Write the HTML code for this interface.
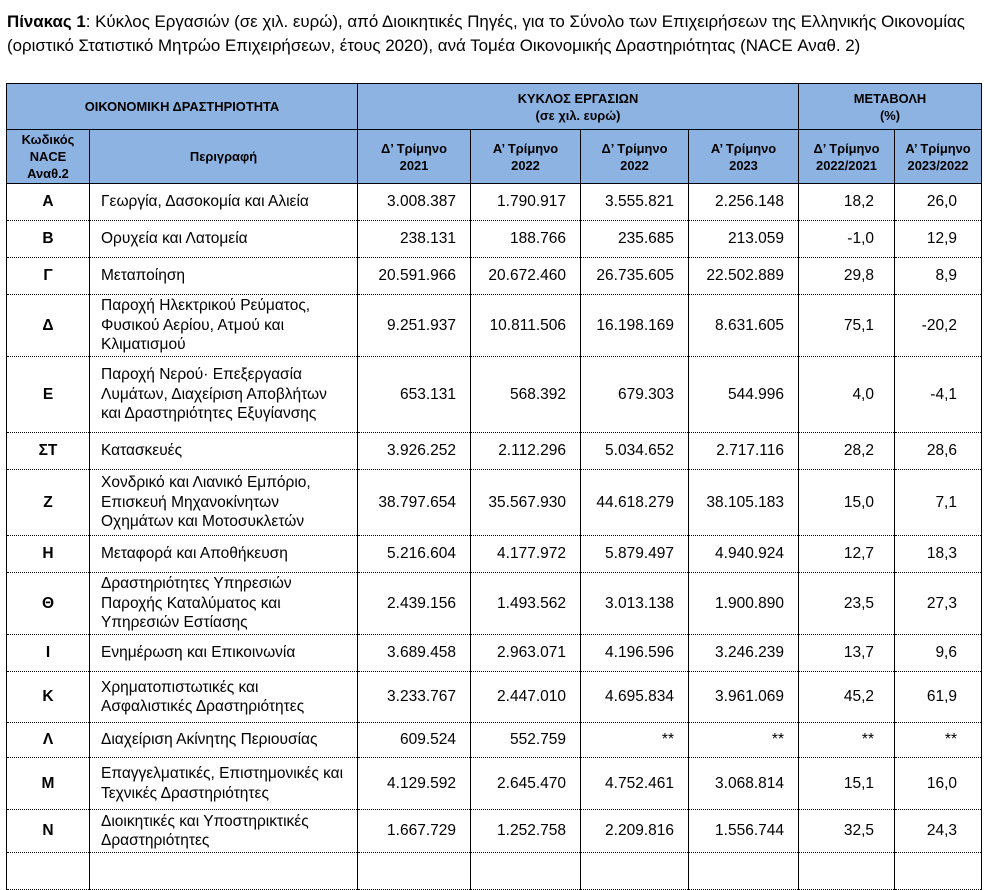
<!DOCTYPE html>
<html><head><meta charset="utf-8"><style>
body{margin:0;background:#fff;width:985px;height:859px;overflow:hidden;font-family:"Liberation Sans","Noto Sans CJK SC",sans-serif;color:#000}
.t{position:absolute;left:7px;font-size:16.9px;white-space:nowrap}
table{position:absolute;left:6px;top:83px;border-collapse:collapse;table-layout:fixed;font-size:15.5px}
td{border-left:1px solid #000;border-right:1px solid #000;border-top:1px dotted #000;border-bottom:1px dotted #000;padding:0;line-height:19.5px;overflow:hidden;white-space:nowrap}
tr.h td{background:#8db3e2;font-weight:bold;font-size:12.9px;text-align:center;border:1px solid #000;line-height:17px}
td.c{text-align:center;font-weight:bold;font-size:15.5px}
td.d{padding-left:11px}
td.n{text-align:right;padding-right:14px;font-size:15.5px}
td.p{text-align:right;padding-right:20px;font-size:15.5px}
td.q{text-align:right;padding-right:24px;font-size:15.5px}
</style></head><body>
<div class="t" style="top:12px"><b>Πίνακας 1</b>: Κύκλος Εργασιών (σε χιλ. ευρώ), από Διοικητικές Πηγές, για το Σύνολο των Επιχειρήσεων της Ελληνικής Οικονομίας</div>
<div class="t" style="top:36px">(οριστικό Στατιστικό Μητρώο Επιχειρήσεων, έτους 2020), ανά Τομέα Οικονομικής Δραστηριότητας (NACE Αναθ. 2)</div>
<table>
<colgroup><col style="width:83px"><col style="width:268px"><col style="width:113px"><col style="width:110px"><col style="width:108px"><col style="width:110px"><col style="width:96px"><col style="width:87px"></colgroup>
<tr class="h" style="height:46px"><td colspan="2">ΟΙΚΟΝΟΜΙΚΗ ΔΡΑΣΤΗΡΙΟΤΗΤΑ</td><td colspan="4">ΚΥΚΛΟΣ ΕΡΓΑΣΙΩΝ<br>(σε χιλ. ευρώ)</td><td colspan="2">ΜΕΤΑΒΟΛΗ<br>(%)</td></tr>
<tr class="h" style="height:54px"><td>Κωδικός<br>NACE<br>Αναθ.2</td><td>Περιγραφή</td><td>Δ’ Τρίμηνο<br>2021</td><td>Α’ Τρίμηνο<br>2022</td><td>Δ’ Τρίμηνο<br>2022</td><td>Α’ Τρίμηνο<br>2023</td><td>Δ’ Τρίμηνο<br>2022/2021</td><td>Α’ Τρίμηνο<br>2023/2022</td></tr>
<tr style="height:37px"><td class="c">Α</td><td class="d">Γεωργία, Δασοκομία και Αλιεία</td><td class="n">3.008.387</td><td class="n">1.790.917</td><td class="n">3.555.821</td><td class="n">2.256.148</td><td class="p">18,2</td><td class="q">26,0</td></tr>
<tr style="height:37px"><td class="c">Β</td><td class="d">Ορυχεία και Λατομεία</td><td class="n">238.131</td><td class="n">188.766</td><td class="n">235.685</td><td class="n">213.059</td><td class="p">-1,0</td><td class="q">12,9</td></tr>
<tr style="height:37px"><td class="c">Γ</td><td class="d">Μεταποίηση</td><td class="n">20.591.966</td><td class="n">20.672.460</td><td class="n">26.735.605</td><td class="n">22.502.889</td><td class="p">29,8</td><td class="q">8,9</td></tr>
<tr style="height:62px"><td class="c">Δ</td><td class="d">Παροχή Ηλεκτρικού Ρεύματος,<br>Φυσικού Αερίου, Ατμού και<br>Κλιματισμού</td><td class="n">9.251.937</td><td class="n">10.811.506</td><td class="n">16.198.169</td><td class="n">8.631.605</td><td class="p">75,1</td><td class="q">-20,2</td></tr>
<tr style="height:76px"><td class="c">Ε</td><td class="d">Παροχή Νερού· Επεξεργασία<br>Λυμάτων, Διαχείριση Αποβλήτων<br>και Δραστηριότητες Εξυγίανσης</td><td class="n">653.131</td><td class="n">568.392</td><td class="n">679.303</td><td class="n">544.996</td><td class="p">4,0</td><td class="q">-4,1</td></tr>
<tr style="height:37px"><td class="c">ΣΤ</td><td class="d">Κατασκευές</td><td class="n">3.926.252</td><td class="n">2.112.296</td><td class="n">5.034.652</td><td class="n">2.717.116</td><td class="p">28,2</td><td class="q">28,6</td></tr>
<tr style="height:66px"><td class="c">Ζ</td><td class="d">Χονδρικό και Λιανικό Εμπόριο,<br>Επισκευή Μηχανοκίνητων<br>Οχημάτων και Μοτοσυκλετών</td><td class="n">38.797.654</td><td class="n">35.567.930</td><td class="n">44.618.279</td><td class="n">38.105.183</td><td class="p">15,0</td><td class="q">7,1</td></tr>
<tr style="height:37px"><td class="c">Η</td><td class="d">Μεταφορά και Αποθήκευση</td><td class="n">5.216.604</td><td class="n">4.177.972</td><td class="n">5.879.497</td><td class="n">4.940.924</td><td class="p">12,7</td><td class="q">18,3</td></tr>
<tr style="height:62px"><td class="c">Θ</td><td class="d">Δραστηριότητες Υπηρεσιών<br>Παροχής Καταλύματος και<br>Υπηρεσιών Εστίασης</td><td class="n">2.439.156</td><td class="n">1.493.562</td><td class="n">3.013.138</td><td class="n">1.900.890</td><td class="p">23,5</td><td class="q">27,3</td></tr>
<tr style="height:37px"><td class="c">Ι</td><td class="d">Ενημέρωση και Επικοινωνία</td><td class="n">3.689.458</td><td class="n">2.963.071</td><td class="n">4.196.596</td><td class="n">3.246.239</td><td class="p">13,7</td><td class="q">9,6</td></tr>
<tr style="height:51px"><td class="c">Κ</td><td class="d">Χρηματοπιστωτικές και<br>Ασφαλιστικές Δραστηριότητες</td><td class="n">3.233.767</td><td class="n">2.447.010</td><td class="n">4.695.834</td><td class="n">3.961.069</td><td class="p">45,2</td><td class="q">61,9</td></tr>
<tr style="height:35px"><td class="c">Λ</td><td class="d">Διαχείριση Ακίνητης Περιουσίας</td><td class="n">609.524</td><td class="n">552.759</td><td class="n">**</td><td class="n">**</td><td class="p">**</td><td class="q">**</td></tr>
<tr style="height:52px"><td class="c">Μ</td><td class="d">Επαγγελματικές, Επιστημονικές και<br>Τεχνικές Δραστηριότητες</td><td class="n">4.129.592</td><td class="n">2.645.470</td><td class="n">4.752.461</td><td class="n">3.068.814</td><td class="p">15,1</td><td class="q">16,0</td></tr>
<tr style="height:43px"><td class="c">Ν</td><td class="d">Διοικητικές και Υποστηρικτικές<br>Δραστηριότητες</td><td class="n">1.667.729</td><td class="n">1.252.758</td><td class="n">2.209.816</td><td class="n">1.556.744</td><td class="p">32,5</td><td class="q">24,3</td></tr>
<tr style="height:37px"><td class="c"></td><td class="d"></td><td class="n"></td><td class="n"></td><td class="n"></td><td class="n"></td><td class="p"></td><td class="q"></td></tr>
</table>
</body></html>
